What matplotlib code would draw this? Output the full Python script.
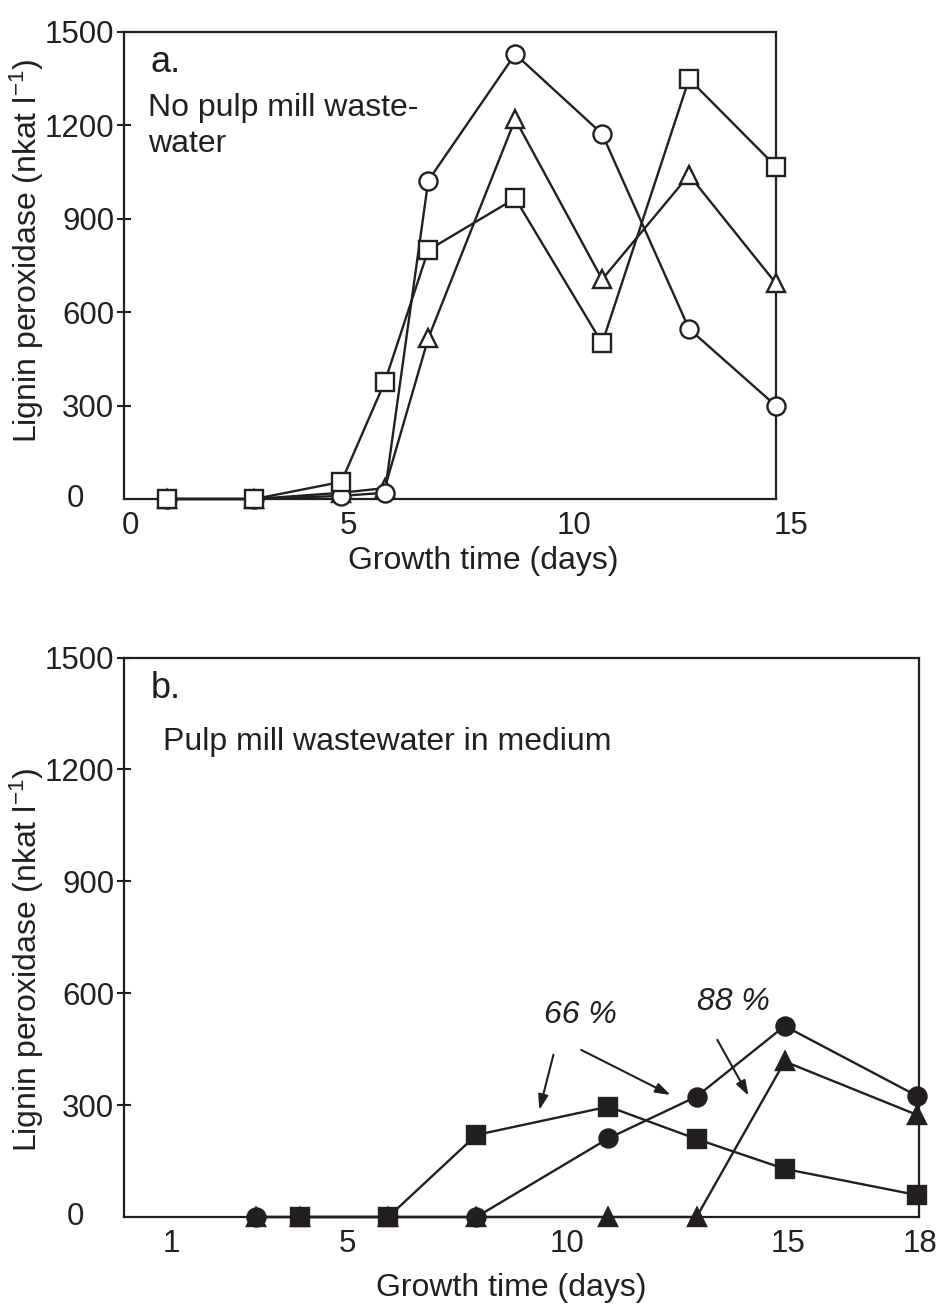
import matplotlib
matplotlib.use("Agg")
import matplotlib.pyplot as plt
from matplotlib.transforms import ScaledTranslation

plt.rcParams['font.family'] = ['Liberation Sans', 'DejaVu Sans']
plt.rcParams['mathtext.fontset'] = 'custom'
plt.rcParams['mathtext.rm'] = 'Liberation Sans'
plt.rcParams['mathtext.it'] = 'Liberation Sans:italic'

INK = '#231f20'

# ---------------- data ----------------
# Panel a: no pulp mill wastewater
days_a = [1, 3, 5, 6, 7, 9, 11, 13, 15]
a_square = [0, 0, 55, 376, 799, 965, 500, 1348, 1067]
a_circle = [0, 0, 10, 20, 1022, 1428, 1172, 546, 299]
a_triangle = [0, 0, 20, 35, 516, 1219, 705, 1040, 692]

# Panel b: pulp mill wastewater in medium
days_b_square = [4, 6, 8, 11, 13, 15, 18]
b_square = [0, 0, 220, 296, 209, 129, 59]
days_b_circle = [3, 8, 11, 13, 15, 18]
b_circle = [0, 0, 211, 323, 512, 325]
days_b_triangle = [3, 4, 6, 8, 11, 13, 15, 18]
b_triangle = [0, 0, 0, 0, 0, 0, 417, 274]

yticks = [300, 600, 900, 1200, 1500]
xticks_a = [0, 5, 10, 15]
xticks_b = [1, 5, 10, 15, 18]

FS = 22.5
FL = 23
LW = 1.7
MS = 13

fig = plt.figure(figsize=(9.36, 13.08), dpi=100)
W, H = 936, 1308


def axes_px(l, t, r, b):
    return fig.add_axes([l / W, 1 - b / H, (r - l) / W, (b - t) / H])


def style(ax, xlim, xticks, xha, xshift_px):
    ax.set_xlim(*xlim)
    ax.set_ylim(0, 1500)
    for s in ax.spines.values():
        s.set_linewidth(1.6)
        s.set_color(INK)
    ax.set_yticks(yticks)
    ax.set_yticklabels([str(v) for v in yticks], fontsize=FS, color=INK)
    ax.tick_params(axis='y', direction='inout', length=10, width=1.5,
                   color=INK, pad=2)
    ax.set_xticks(xticks)
    ax.set_xticklabels([str(v) for v in xticks], fontsize=FS, color=INK)
    ax.tick_params(axis='x', length=0, pad=9)
    off = ScaledTranslation(xshift_px / 100, 0, fig.dpi_scale_trans)
    for lab in ax.get_xticklabels():
        lab.set_ha(xha)
        lab.set_transform(lab.get_transform() + off)
    # zero label placed separately, left of the spine
    zoff = ScaledTranslation(-49 / 100, 0, fig.dpi_scale_trans)
    ax.text(0, 0, '0', transform=ax.transData + zoff,
            ha='center', va='center', fontsize=FS, color=INK)


YLAB = r'Lignin peroxidase (nkat l$^{\mathregular{-1}}$)'

# ---------------- panel a ----------------
axa = axes_px(124, 31.7, 776, 499)
style(axa, (0, 15), xticks_a, 'left', -2)
kw = dict(color=INK, lw=LW, ms=MS, mew=LW, mec=INK, clip_on=False)
axa.plot(days_a, a_triangle, marker='^', mfc='white', zorder=3, **kw)
axa.plot(days_a, a_circle, marker='o', mfc='white', zorder=4, **kw)
axa.plot(days_a, a_square, marker='s', mfc='white', zorder=5, **kw)

axa.set_xlabel('Growth time (days)', fontsize=FL, color=INK)
axa.xaxis.set_label_coords(0.551, -0.1)
axa.set_ylabel(YLAB, fontsize=FL, color=INK)
axa.yaxis.set_label_coords(-0.12, 0.53)

axa.text(0.04, 0.935, 'a.', transform=axa.transAxes, fontsize=26,
         va='center', ha='left', color=INK)
axa.text(0.037, 0.837, 'No pulp mill waste-', transform=axa.transAxes,
         fontsize=FL, va='center', ha='left', color=INK)
axa.text(0.037, 0.76, 'water', transform=axa.transAxes,
         fontsize=FL, va='center', ha='left', color=INK)

# ---------------- panel b ----------------
axb = axes_px(124, 657.5, 919, 1217)
style(axb, (0, 18.05), xticks_b, 'center', 3)
axb.plot(days_b_triangle, b_triangle, marker='^', mfc=INK, zorder=3, **kw)
axb.plot(days_b_circle, b_circle, marker='o', mfc=INK, zorder=4, **kw)
axb.plot(days_b_square, b_square, marker='s', mfc=INK, zorder=5, **kw)

axb.set_xlabel('Growth time (days)', fontsize=FL, color=INK)
axb.xaxis.set_label_coords(0.487, -0.1)
axb.set_ylabel(YLAB, fontsize=FL, color=INK)
axb.yaxis.set_label_coords(-0.098, 0.46)

axb.text(0.033, 0.944, 'b.', transform=axb.transAxes, fontsize=26,
         va='center', ha='left', color=INK)
axb.text(0.049, 0.849, 'Pulp mill wastewater in medium',
         transform=axb.transAxes, fontsize=FL, va='center', ha='left',
         color=INK)

axb.text(10.36, 542, '66 %', fontsize=FL, style='italic', ha='center',
         va='center', color=INK)
axb.text(13.84, 577, '88 %', fontsize=FL, style='italic', ha='center',
         va='center', color=INK)
arrow = dict(arrowstyle='-|>,head_length=0.9,head_width=0.3', color=INK,
             lw=1.5, shrinkA=0, shrinkB=0)
axb.annotate('', xy=(9.43, 287), xytext=(9.75, 435), arrowprops=arrow)
axb.annotate('', xy=(12.41, 327), xytext=(10.38, 448), arrowprops=arrow)
axb.annotate('', xy=(14.18, 325), xytext=(13.47, 475), arrowprops=arrow)

fig.savefig('out.png', dpi=100)
